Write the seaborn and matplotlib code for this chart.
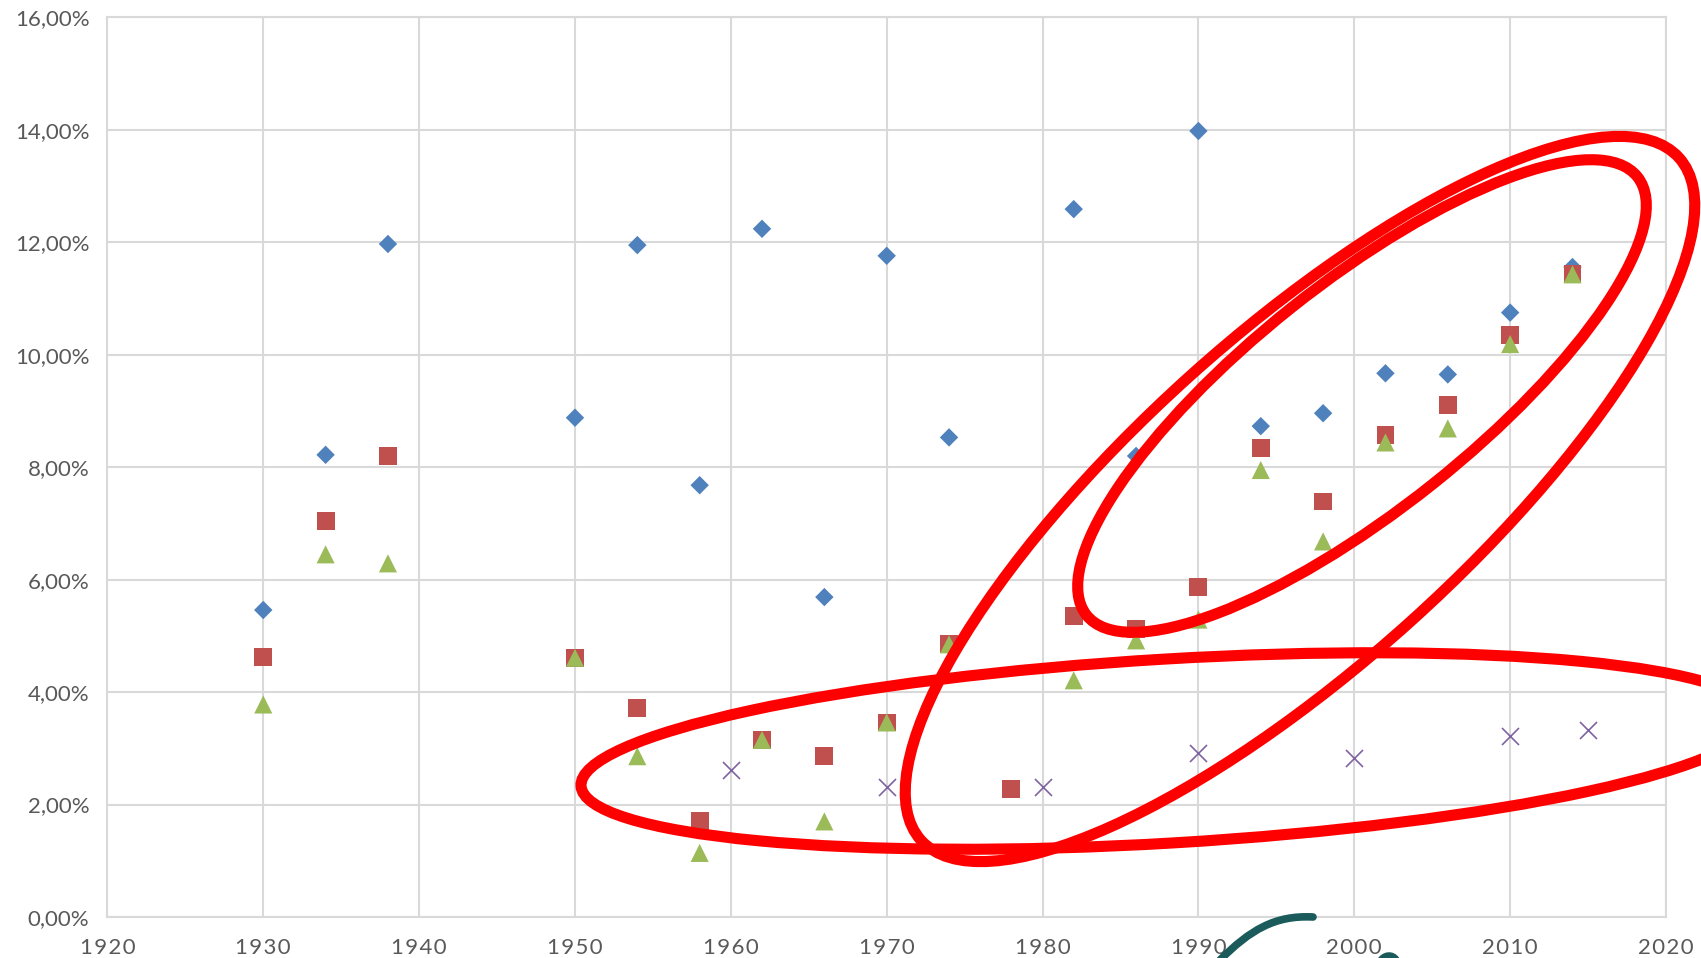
import matplotlib
matplotlib.use("Agg")
import matplotlib.pyplot as plt
import seaborn as sns
from matplotlib.patches import Ellipse, PathPatch
from matplotlib.path import Path
from matplotlib.ticker import FuncFormatter, MultipleLocator
from matplotlib.transforms import Affine2D

# --- data (in %) -----------------------------------------------------------
years_main = [1930, 1934, 1938, 1950, 1954, 1958, 1962, 1966, 1970, 1974,
              1982, 1986, 1990, 1994, 1998, 2002, 2006, 2010, 2014]
blue_vals = [5.46, 8.22, 11.97, 8.88, 11.95, 7.68, 12.24, 5.69, 11.76, 8.53,
             12.59, 8.20, 13.98, 8.73, 8.96, 9.67, 9.65, 10.75, 11.56]

years_full = [1930, 1934, 1938, 1950, 1954, 1958, 1962, 1966, 1970, 1974,
              1978, 1982, 1986, 1990, 1994, 1998, 2002, 2006, 2010, 2014]
red_vals = [4.63, 7.05, 8.20, 4.61, 3.71, 1.70, 3.15, 2.86, 3.46, 4.85,
            2.28, 5.35, 5.12, 5.87, 8.34, 7.39, 8.57, 9.11, 10.35, 11.43]
green_vals = [3.78, 6.45, 6.29, 4.61, 2.86, 1.14, 3.15, 1.70, 3.46, 4.85,
              1.14, 4.21, 4.92, 5.29, 7.95, 6.68, 8.44, 8.69, 10.19, 11.43]

years_x = [1960, 1970, 1980, 1990, 2000, 2010, 2015]
purple_vals = [2.61, 2.32, 2.32, 2.92, 2.82, 3.22, 3.32]

W, H = 1701, 958

sns.set_theme(style="white")
plt.rcParams["font.family"] = ["Lato", "DejaVu Sans"]

fig = plt.figure(figsize=(W / 100, H / 100), dpi=100)
ax = fig.add_axes([107.4 / W, 41 / H, (1666 - 107.4) / W, (917 - 17.4) / H])

series = [
    (years_main, blue_vals, "D", 88, "#4f81bd"),
    (years_full, red_vals, "s", 165, "#c0504d"),
    (years_full, green_vals, "^", 170, "#9bbb59"),
]
for xs, ys, mk, size, col in series:
    sns.scatterplot(x=xs, y=ys, marker=mk, s=size, color=col,
                    edgecolor="none", ax=ax, zorder=3)
sns.scatterplot(x=years_x, y=purple_vals, marker="x", s=150, color="#8064a2",
                linewidth=1.2, ax=ax, zorder=3)

ax.set_xlim(1920, 2020)
ax.set_ylim(0, 16)
ax.xaxis.set_major_locator(MultipleLocator(10))
ax.yaxis.set_major_locator(MultipleLocator(2))
ax.yaxis.set_major_formatter(
    FuncFormatter(lambda v, _: f"{v:.2f}".replace(".", ",") + "%"))
# Excel-style letter-spaced year labels
ax.xaxis.set_major_formatter(
    FuncFormatter(lambda v, _: "\u200a".join(str(int(round(v))))))
ax.grid(True, color="#d9d9d9", linewidth=1.5)
ax.set_axisbelow(True)
for sp in ax.spines.values():
    sp.set_color("#d9d9d9")
    sp.set_linewidth(1.5)
ax.tick_params(axis="both", length=0, labelsize=16, colors="#595959")
ax.tick_params(axis="y", pad=13)
ax.tick_params(axis="x", pad=15)

# --- hand-drawn red ellipses (pixel coordinates, y up) ----------------------
px = Affine2D().scale(1 / W, 1 / H) + fig.transFigure
ellipses = [
    ((1169, 207), 1178, 184, 3.4),
    ((1300, 459), 1020, 330, 42),
    ((1362, 562), 704, 226, 38.5),
]
for (cx, cy), w, h, ang in ellipses:
    fig.add_artist(Ellipse((cx, cy), w, h, angle=ang, fill=False,
                           edgecolor="#ff0000", linewidth=8, transform=px,
                           zorder=10))

# partial logo strokes at the bottom
strokes = [
    [(1220, H - 960), (1250, H - 930), (1275, H - 915), (1313, H - 917)],
    [(1380, H - 962), (1384, H - 955), (1392, H - 954), (1396, H - 960)],
]
for verts in strokes:
    logo = Path(verts, [Path.MOVETO, Path.CURVE4, Path.CURVE4, Path.CURVE4])
    fig.add_artist(PathPatch(logo, fill=False, edgecolor="#1b5b5b",
                             linewidth=5.5, capstyle="round", transform=px,
                             zorder=10))

fig.savefig("out.png", dpi=100)
